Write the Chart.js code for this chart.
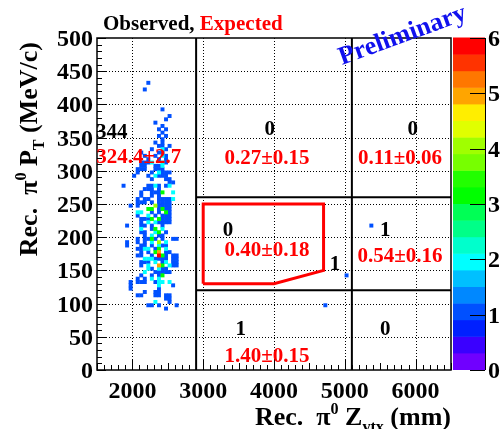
<!DOCTYPE html>
<html>
<head>
<meta charset="utf-8">
<script src="https://cdn.jsdelivr.net/npm/chart.js@4.4.0/dist/chart.umd.min.js"></script>
<style>
  html, body { margin: 0; padding: 0; background: #fff; }
  canvas { display: block; }
</style>
</head>
<body>
<canvas id="chart" width="502" height="429"></canvas>
<script>
// axis ranges and ticks
const zRange = [1500, 6500];
const ptRange = [0, 500];
const zTicks = [2000, 3000, 4000, 5000, 6000];
const ptTicks = [0, 50, 100, 150, 200, 250, 300, 350, 400, 450, 500];
const zGrid = [2000, 3000, 4000, 5000, 6000];
const ptGrid = [50, 100, 150, 200, 250, 300, 350, 400, 450];

// bin size (mm, MeV/c)
const binZ = 50;
const binPt = 5;

// region cuts and signal box
const zCuts = [2900, 5100];
const ptCuts = [120, 260];
const signalZ = [3000, 3000, 4700, 4700, 4000, 3000];
const signalPt = [130, 250, 250, 150, 130, 130];

// palette: 20 contours from 0 to 6 entries
const zMax = 6;
const paletteColors = [
  '#7000ff', '#3a00ff', '#0020ff', '#0050ff', '#0088ff', '#00c0ff', '#00ffff',
  '#00ffcc', '#00ff88', '#00ff55', '#00ff00', '#22ff00', '#77ff00', '#a0ff00',
  '#e0ff00', '#ffee00', '#ffa500', '#ff7700', '#ff3300', '#ff0000'
];
const paletteTicks = [0, 1, 2, 3, 4, 5, 6];

// filled bins [Z low edge, PT low edge], grouped by entries
const ones = [
  [2200,430],[2150,420],[2400,390],[2500,380],[2450,375],[2300,370],[2400,365],[2350,360],[2450,360],
  [2400,355],[2350,350],[2450,350],[2400,345],[2300,340],[2400,340],[2350,335],[2400,335],[2500,335],
  [2250,330],[2450,330],[2100,325],[2350,325],[2400,325],[2150,320],[2300,320],[2450,320],
  [2200,315],[2350,315],[2450,315],[2100,310],[2150,310],[2200,310],[2450,310],
  [2100,305],[2150,305],[2300,305],[2350,305],
  [2050,300],[2100,300],[2150,300],[2300,300],[2350,300],[2400,300],
  [2050,295],[2250,295],[2400,295],[2450,295],[2500,295],
  [2000,290],[2200,290],[2350,290],[2400,290],[2450,290],
  [2250,285],[2450,285],[2500,285],
  [2500,280],[2550,280],
  [1850,275],[2200,275],[2250,275],[2350,275],[2450,275],
  [2150,270],[2200,270],[2250,270],[2350,270],
  [2100,265],[2250,265],[2300,265],[2350,265],
  [2100,260],[2250,260],[2350,260],
  [2050,255],[2150,255],[2200,255],[2350,255],[2400,255],[2450,255],[2500,255],
  [2050,250],[2100,250],[2150,250],[2250,250],[2350,250],[2400,250],[2450,250],[2500,250],
  [1950,245],[2050,245],[2350,245],[2400,245],[2450,245],[2500,245],
  [2350,240],[2450,240],[2500,240],
  [2250,235],[2350,235],[2500,235],
  [2050,230],[2300,230],[2400,230],[2450,230],[2500,230],
  [2100,225],[2150,225],[2200,225],[2400,225],[2450,225],[2500,225],
  [2100,220],[2350,220],[2400,220],[2450,220],[2500,220],
  [1900,215],[2100,215],[2150,215],[2250,215],[2400,215],
  [2250,210],
  [2100,205],[2150,205],[2450,205],
  [2150,200],[2350,200],[2400,200],
  [2050,195],[2150,195],[2200,195],[2300,195],[2400,195],[2550,195],[2600,195],
  [1900,190],[2050,190],[2150,190],
  [1900,185],[2100,185],[2150,185],[2250,185],[2400,185],[2450,185],
  [2050,180],[2100,180],[2300,180],
  [2100,175],[2200,175],[2450,175],[2500,175],
  [2050,170],[2100,170],[2250,170],[2450,170],[2550,170],[2600,170],
  [2300,165],[2350,165],[2400,165],[2450,165],[2550,165],[2600,165],
  [2100,160],[2150,160],[2200,160],[2400,160],[2550,160],[2600,160],
  [2100,155],[2550,155],[2600,155],
  [2250,150],[2400,150],[2450,150],
  [2300,145],[2350,145],[2400,145],[2450,145],[2500,145],
  [2100,140],[2250,140],[2350,140],
  [2050,135],[2150,135],
  [1950,130],[2050,130],[2100,130],[2150,130],[2300,130],
  [1950,125],[2550,125],
  [1950,120],[2350,120],
  [2150,115],[2300,115],[2350,115],
  [2050,110],[2100,110],[2300,110],[2350,110],[2450,110],[2500,110],
  [2450,105],[2500,105],
  [2500,100],
  [2200,95],[2250,95],[2350,95],[2600,95],
  [2450,90],
  [4700,95],[5000,140],[5350,215]
];
const twos = [
  [2400,330],[2400,320],[2250,310],[2400,310],[2400,305],[2350,295],[2300,290],
  [2300,275],[2500,275],[2550,265],[2550,255],[2050,235],[2100,235],[2200,230],
  [2200,220],[2300,220],[2100,210],[2400,210],[2300,205],[2250,200],[2250,190],
  [2450,190],[2350,185],[2150,180],[2200,180],[2450,180],[2150,165],[2200,165],
  [2250,165],[2300,160],[2450,160],[2200,155],[2500,155],[2200,150],[2350,150],
  [2150,145],[2250,135],[2350,135],[2350,130],[2400,130],[2500,130],[2350,125],
  [2300,100]
];
const threes = [
  [2400,265],[2200,240],[2250,240],[2400,240],[2450,235],[2250,225],[2350,225],
  [2300,210],[2350,205],[2250,195],[2350,180],[2300,175],[2400,170],[2400,155],
  [2400,140]
];
const fours = [[2300,245],[2350,190]];
const fives = [[2350,175],[2350,155]];
const sixes = [[2350,170]];

// region contents
const observedText = ['344', '0', '0', '0', '1', '1', '1', '0'];
const expectedText = ['324.4\u00b12.7', '0.27\u00b10.15', '0.11\u00b10.06', '0.40\u00b10.18', '0.54\u00b10.16', '1.40\u00b10.15'];
// where the region labels sit, in (Z, PT)
const observedAt = [[1710,360],[3940,364],[5960,364],[3350,212],[4860,161],[5570,212],[3530,63],[5570,63]];
const expectedAt = [[2090,322],[3900,321],[5780,321],[3900,182],[5780,173],[3900,22]];

const FONT = '"Liberation Serif", "Times New Roman", serif';
const font = (size) => `bold ${size}px ${FONT}`;

function colorFor(n) {
  const idx = Math.min(paletteColors.length - 1, Math.floor(n / zMax * paletteColors.length));
  return paletteColors[idx];
}

function cellSet(cells, n) {
  return {
    data: cells.map(([z, pt]) => ({ x: z + binZ / 2, y: pt + binPt / 2 })),
    pointStyle: 'rect',
    pointRadius: 2.8,
    pointHoverRadius: 2.8,
    borderWidth: 0,
    backgroundColor: colorFor(n),
    borderColor: colorFor(n),
  };
}

function segment(points, color, width) {
  return {
    data: points,
    showLine: true,
    borderColor: color,
    borderWidth: width,
    borderJoinStyle: 'miter',
    pointRadius: 0,
    fill: false,
  };
}

// rich text: parts of [text, scale, shift]
function drawRich(ctx, parts, size) {
  let x = 0;
  parts.forEach(([t, s, dy]) => {
    ctx.font = font(size * s);
    ctx.fillText(t, x, dy * size);
    x += ctx.measureText(t).width;
  });
}
function richWidth(ctx, parts, size) {
  return parts.reduce((w, [t, s]) => { ctx.font = font(size * s); return w + ctx.measureText(t).width; }, 0);
}

const rootDecor = {
  id: 'rootDecor',
  beforeDatasetsDraw(chart) {
    const { ctx, chartArea: a, scales: { x, y } } = chart;
    ctx.save();
    ctx.strokeStyle = '#000';
    ctx.lineWidth = 1;
    ctx.setLineDash([1, 2]);
    ctx.beginPath();
    zGrid.forEach((v) => {
      const px = Math.round(x.getPixelForValue(v)) + 0.5;
      ctx.moveTo(px, a.top); ctx.lineTo(px, a.bottom);
    });
    ptGrid.forEach((v) => {
      const py = Math.round(y.getPixelForValue(v)) + 0.5;
      ctx.moveTo(a.left, py); ctx.lineTo(a.right, py);
    });
    ctx.stroke();
    ctx.restore();
  },
  afterDatasetsDraw(chart) {
    const { ctx, chartArea: a, scales: { x, y } } = chart;
    ctx.save();
    ctx.strokeStyle = '#000';
    ctx.lineWidth = 1;
    ctx.beginPath();
    for (let v = ptRange[0]; v <= ptRange[1]; v += 10) {
      const py = Math.round(y.getPixelForValue(v)) + 0.5;
      const len = v % 50 === 0 ? 9 : 5;
      ctx.moveTo(a.left, py); ctx.lineTo(a.left + len, py);
    }
    for (let v = zRange[0]; v <= zRange[1]; v += 100) {
      const px = Math.round(x.getPixelForValue(v)) + 0.5;
      const len = v % 1000 === 0 ? 10 : (v % 500 === 0 ? 7 : 5);
      ctx.moveTo(px, a.bottom); ctx.lineTo(px, a.bottom - len);
    }
    ctx.stroke();
    ctx.lineWidth = 1.5;
    ctx.strokeRect(a.left, a.top, a.right - a.left, a.bottom - a.top);

    // axis labels
    ctx.fillStyle = '#000';
    ctx.font = font(24);
    ctx.textBaseline = 'alphabetic';
    ctx.textAlign = 'right';
    ptTicks.forEach((v) => ctx.fillText(String(v), a.left - 4, y.getPixelForValue(v) + 8));
    ctx.textAlign = 'center';
    zTicks.forEach((v) => ctx.fillText(String(v), x.getPixelForValue(v), a.bottom + 28));

    // region counts
    ctx.font = font(21);
    ctx.fillStyle = '#000';
    observedText.forEach((t, i) => {
      const [z, pt] = observedAt[i];
      ctx.fillText(t, x.getPixelForValue(z), y.getPixelForValue(pt) + 7);
    });
    ctx.fillStyle = '#ff0000';
    expectedText.forEach((t, i) => {
      const [z, pt] = expectedAt[i];
      ctx.fillText(t, x.getPixelForValue(z), y.getPixelForValue(pt) + 7);
    });
    ctx.restore();
  },
  afterDraw(chart) {
    const { ctx, chartArea: a } = chart;
    ctx.save();

    // palette axis
    const bx0 = a.right + 2, bx1 = a.right + 34;
    const h = (a.bottom - a.top) / paletteColors.length;
    paletteColors.forEach((c, i) => {
      ctx.fillStyle = c;
      const yb = a.bottom - i * h;
      ctx.fillRect(bx0, yb - h - 0.5, bx1 - bx0, h + 0.5);
    });
    ctx.strokeStyle = '#000';
    ctx.lineWidth = 1;
    ctx.beginPath();
    ctx.moveTo(bx1 + 0.5, a.top); ctx.lineTo(bx1 + 0.5, a.bottom);
    paletteTicks.forEach((v) => {
      const py = Math.round(a.bottom - v / zMax * (a.bottom - a.top)) + 0.5;
      ctx.moveTo(bx1, py); ctx.lineTo(bx1 - 15, py);
    });
    ctx.stroke();
    ctx.fillStyle = '#000';
    ctx.font = font(24);
    ctx.textAlign = 'left';
    ctx.textBaseline = 'alphabetic';
    paletteTicks.forEach((v) => {
      const py = a.bottom - v / zMax * (a.bottom - a.top);
      ctx.fillText(String(v), bx1 + 3, py + 8);
    });

    // title
    ctx.font = font(21);
    ctx.fillStyle = '#000';
    ctx.fillText('Observed, ', 103, 30);
    const w = ctx.measureText('Observed, ').width;
    ctx.fillStyle = '#ff0000';
    ctx.fillText('Expected', 103 + w, 30);

    // preliminary stamp
    ctx.save();
    ctx.translate(405, 42);
    ctx.rotate(-20 * Math.PI / 180);
    ctx.fillStyle = '#1010ee';
    ctx.font = font(26);
    ctx.textAlign = 'center';
    ctx.fillText('Preliminary', 0, 0);
    ctx.restore();

    // axis titles
    ctx.fillStyle = '#000';
    ctx.textAlign = 'left';
    const xTitle = [['Rec.  \u03c0', 1, 0], ['0', 0.62, -0.42], [' Z', 1, 0], ['vtx', 0.62, 0.25], [' (mm)', 1, 0]];
    const xw = richWidth(ctx, xTitle, 26);
    ctx.save();
    ctx.translate(a.right - xw, 425);
    drawRich(ctx, xTitle, 26);
    ctx.restore();

    const yTitle = [['Rec.  \u03c0', 1, 0], ['0', 0.62, -0.42], [' P', 1, 0], ['T', 0.62, 0.25], [' (MeV/c)', 1, 0]];
    const yw = richWidth(ctx, yTitle, 26);
    ctx.save();
    ctx.translate(37, a.top + 4 + yw);
    ctx.rotate(-Math.PI / 2);
    drawRich(ctx, yTitle, 26);
    ctx.restore();

    ctx.restore();
  },
};

const datasets = [
  segment(signalZ.map((z, i) => ({ x: z, y: signalPt[i] })), '#ff0000', 3),
  segment([{ x: zCuts[0], y: ptRange[0] }, { x: zCuts[0], y: ptRange[1] }], '#000', 2),
  segment([{ x: zCuts[1], y: ptRange[0] }, { x: zCuts[1], y: ptRange[1] }], '#000', 2),
  segment([{ x: zCuts[0], y: ptCuts[0] }, { x: zRange[1], y: ptCuts[0] }], '#000', 2),
  segment([{ x: zCuts[0], y: ptCuts[1] }, { x: zRange[1], y: ptCuts[1] }], '#000', 2),
  cellSet(sixes, 6),
  cellSet(fives, 5),
  cellSet(fours, 4),
  cellSet(threes, 3),
  cellSet(twos, 2),
  cellSet(ones, 1),
];

new Chart(document.getElementById('chart'), {
  type: 'scatter',
  data: { datasets },
  options: {
    responsive: false,
    animation: false,
    events: [],
    layout: { padding: { top: 38, right: 51, left: 0, bottom: 0 } },
    plugins: { legend: { display: false }, tooltip: { enabled: false } },
    scales: {
      x: {
        type: 'linear',
        min: zRange[0],
        max: zRange[1],
        afterBuildTicks: (s) => { s.ticks = zTicks.map((v) => ({ value: v })); },
        afterFit: (s) => { s.height = 59; },
        grid: { display: false, drawTicks: false },
        border: { display: false },
        ticks: { display: false },
      },
      y: {
        type: 'linear',
        min: ptRange[0],
        max: ptRange[1],
        afterBuildTicks: (s) => { s.ticks = ptTicks.map((v) => ({ value: v })); },
        afterFit: (s) => { s.width = 97; },
        grid: { display: false, drawTicks: false },
        border: { display: false },
        ticks: { display: false },
      },
    },
  },
  plugins: [rootDecor],
});
</script>
</body>
</html>
